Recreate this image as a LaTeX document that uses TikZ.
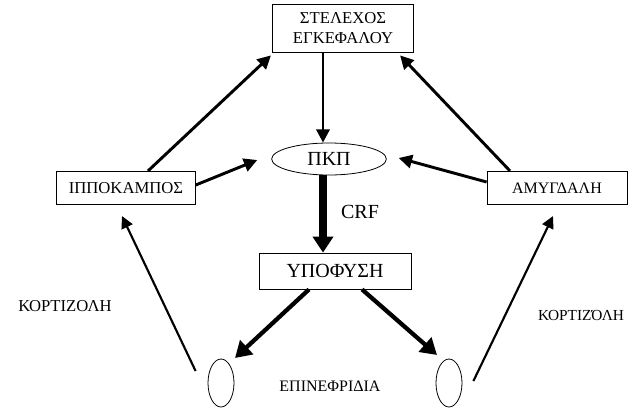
\documentclass[tikz,border=0pt]{standalone}
\usepackage{fontspec}
\setmainfont{Liberation Serif}
\usetikzlibrary{shapes,arrows.meta,positioning,calc}

\begin{document}
\begin{tikzpicture}[x=0.75pt,y=-0.75pt,font=\rmfamily\fontsize{12.5}{15}\selectfont,
    box/.style={draw,rectangle,line width=0.6pt,inner sep=0pt,align=center},
    oval/.style={draw,ellipse,line width=0.6pt,inner sep=0pt},
    big/.style={font=\rmfamily\fontsize{15}{18}\selectfont},
    link/.style={-{Triangle[length=10pt,width=10pt]},line width=2.2pt},
    thin link/.style={-{Triangle[length=9pt,width=9pt]},line width=1.6pt},
    heavy/.style={-{Triangle[length=12pt,width=14pt]},line width=3.2pt}]
    \useasboundingbox (0,0) rectangle (629,411);
    % Brainstem at top
    \node[box,minimum width=106pt,minimum height=36pt] (stem) at (343,28) {ΣΤΕΛΕΧΟΣ\\ΕΓΚΕΦΑΛΟΥ};
    % PVN and pituitary in the middle
    \node[oval,big,minimum width=86pt,minimum height=24pt] (pkp) at (329,159) {ΠΚΠ};
    \node[box,big,minimum width=114pt,minimum height=27pt] (pit) at (335,271) {ΥΠΟΦΥΣΗ};
    % Hippocampus and amygdala at the sides
    \node[box,minimum width=104pt,minimum height=25pt] (hip) at (126,188) {ΙΠΠΟΚΑΜΠΟΣ};
    \node[box,minimum width=105pt,minimum height=25pt,font=\rmfamily\fontsize{12}{14}\selectfont] (amy) at (557,188) {ΑΜΥΓΔΑΛΗ};
    % Adrenals at bottom
    \node[oval,minimum width=19.5pt,minimum height=36pt] (adrL) at (221,383) {};
    \node[oval,minimum width=19.5pt,minimum height=36pt] (adrR) at (449,383) {};
    % Labels
    \node[big] (crf) at (360,212) {CRF};
    \node[font=\rmfamily\fontsize{12}{14}\selectfont] (adr) at (330,386) {ΕΠΙΝΕΦΡΙΔΙΑ};
    \node (cortL) at (65,306) {ΚΟΡΤΙΖΟΛΗ};
    \node[font=\rmfamily\fontsize{11.5}{14}\selectfont] (cortR) at (581,315) {ΚΟΡΤΙΖΌΛΗ};
    % Arrows
    \draw[link] ($(stem.south)+(-20,0)$) -- ($(pkp.north)+(-6,0)$);
    \draw[link] ($(hip.north)+(22,0)$) -- ($(stem.south west)+(-1,3)$);
    \draw[link] ($(amy.north)+(-47,0)$) -- ($(stem.south east)+(-14,3)$);
    \draw[link] ($(hip.east)+(0,-3)$) -- ($(pkp.west)+(-14,1)$);
    \draw[link] ($(amy.west)+(0,-6)$) -- ($(pkp.east)+(12,-1)$);
    \draw[line width=5.5pt,-{Triangle[length=12pt,width=15pt]}] ($(pkp.south)+(-6,0)$) -- ($(pit.north)+(-12,0)$);
    \draw[heavy] ($(pit.south)+(-26,0)$) -- ($(adrL.center)+(14,-25)$);
    \draw[heavy] ($(pit.south)+(27,0)$) -- ($(adrR.center)+(-12,-28)$);
    \draw[thin link] ($(adrL.west)+(-12,-12)$) -- ($(hip.south)+(-4,11)$);
    \draw[thin link] ($(adrR.east)+(11,-2)$) -- ($(amy.south)+(-4,11)$);
\end{tikzpicture}
\end{document}
